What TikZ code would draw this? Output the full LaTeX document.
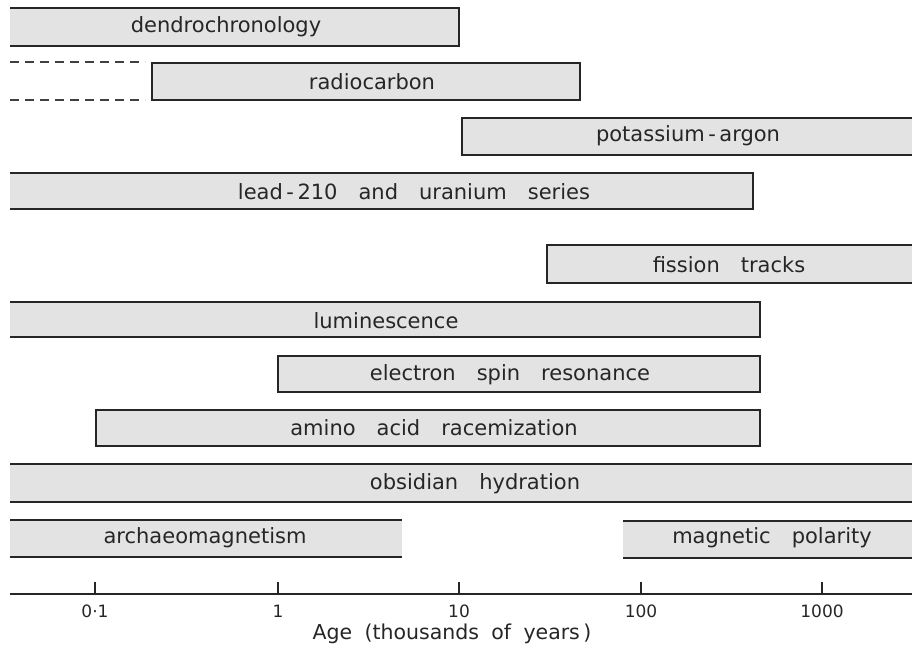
\documentclass[tikz,border=0pt]{standalone}
\usepackage{fontspec}
\setmainfont{DejaVu Sans}
\newcommand{\wsp}{\hspace{1.0em}}
\tikzset{
  barfill/.style={fill=black!11},
  barline/.style={draw=black!85,line width=1.5pt},
  dashline/.style={draw=black!75,line width=1.1pt,dash pattern=on 9pt off 6pt},
  lbl/.style={font=\fontsize{21}{23}\selectfont,text=black!85,inner sep=0pt},
  ticklbl/.style={font=\fontsize{17}{19}\selectfont,text=black!85,inner sep=0pt},
  axisline/.style={draw=black!85,line width=1.3pt},
}
\begin{document}
\begin{tikzpicture}[x=1pt,y=-1pt]
\useasboundingbox (0,0) rectangle (912,652);
% dendrochronology (open left)
\fill[barfill] (10,8) rectangle (459,46);
\draw[barline] (10,8) -- (459,8) -- (459,46) -- (10,46);
\node[lbl] (dendro) at (226,27) {dendrochronology};
% radiocarbon (closed) + dashed extension
\fill[barfill] (152,63) rectangle (580,100);
\draw[barline] (152,63) rectangle (580,100);
\draw[dashline] (10,62) -- (145,62);
\draw[dashline] (10,100) -- (145,100);
\node[lbl] (radio) at (372,82) {radiocarbon};
% potassium-argon (open right)
\fill[barfill] (462,118) rectangle (912,155);
\draw[barline] (912,118) -- (462,118) -- (462,155) -- (912,155);
\node[lbl] (kar) at (688,136) {potassium\,-\,argon};
% lead-210 and uranium series (open left)
\fill[barfill] (10,173) rectangle (753,209);
\draw[barline] (10,173) -- (753,173) -- (753,209) -- (10,209);
\node[lbl] (lead) at (414,192) {lead\,-\,210\wsp and\wsp uranium\wsp series};
% fission tracks (open right)
\fill[barfill] (547,245) rectangle (912,283);
\draw[barline] (912,245) -- (547,245) -- (547,283) -- (912,283);
\node[lbl] (fission) at (729,265) {fission\wsp tracks};
% luminescence (open left)
\fill[barfill] (10,302) rectangle (760,337);
\draw[barline] (10,302) -- (760,302) -- (760,337) -- (10,337);
\node[lbl] (lumin) at (386,321) {luminescence};
% electron spin resonance (closed)
\fill[barfill] (278,356) rectangle (760,392);
\draw[barline] (278,356) rectangle (760,392);
\node[lbl] (esr) at (510,375) {electron\wsp spin\wsp resonance};
% amino acid racemization (closed)
\fill[barfill] (96,410) rectangle (760,446);
\draw[barline] (96,410) rectangle (760,446);
\node[lbl] (amino) at (434,428) {amino\wsp acid\wsp racemization};
% obsidian hydration (open both)
\fill[barfill] (10,464) rectangle (912,502);
\draw[barline] (10,464) -- (912,464);
\draw[barline] (10,502) -- (912,502);
\node[lbl] (obsid) at (475,484) {obsidian\wsp hydration};
% archaeomagnetism (open left)
\fill[barfill] (10,520) rectangle (402,557);
\draw[barline] (10,520) -- (402,520);
\draw[barline] (10,557) -- (402,557);
\node[lbl] (archaeo) at (205,538) {archaeomagnetism};
% magnetic polarity (open right)
\fill[barfill] (623,521) rectangle (912,558);
\draw[barline] (623,521) -- (912,521);
\draw[barline] (623,558) -- (912,558);
\node[lbl] (magpol) at (772,538) {magnetic\wsp polarity};
% axis
\coordinate (axL) at (10,594);
\coordinate (axR) at (912,594);
\draw[axisline] (axL) -- (axR);
\foreach \xx/\tl [count=\i] in {95/0·1,278/1,459/10,641/100,822/1000}{
  \coordinate (t\i) at (\xx,594);
  \coordinate (u\i) at (\xx,582);
  \draw[axisline] (t\i) -- (u\i);
  \node[ticklbl] (tl\i) at (\xx,611) {\tl};
}
\node[lbl,font=\fontsize{20.5}{22}\selectfont] (agelbl) at (452,634) {Age\hspace{0.6em}(thousands\hspace{0.6em}of\hspace{0.6em}years\,)};
\end{tikzpicture}
\end{document}
